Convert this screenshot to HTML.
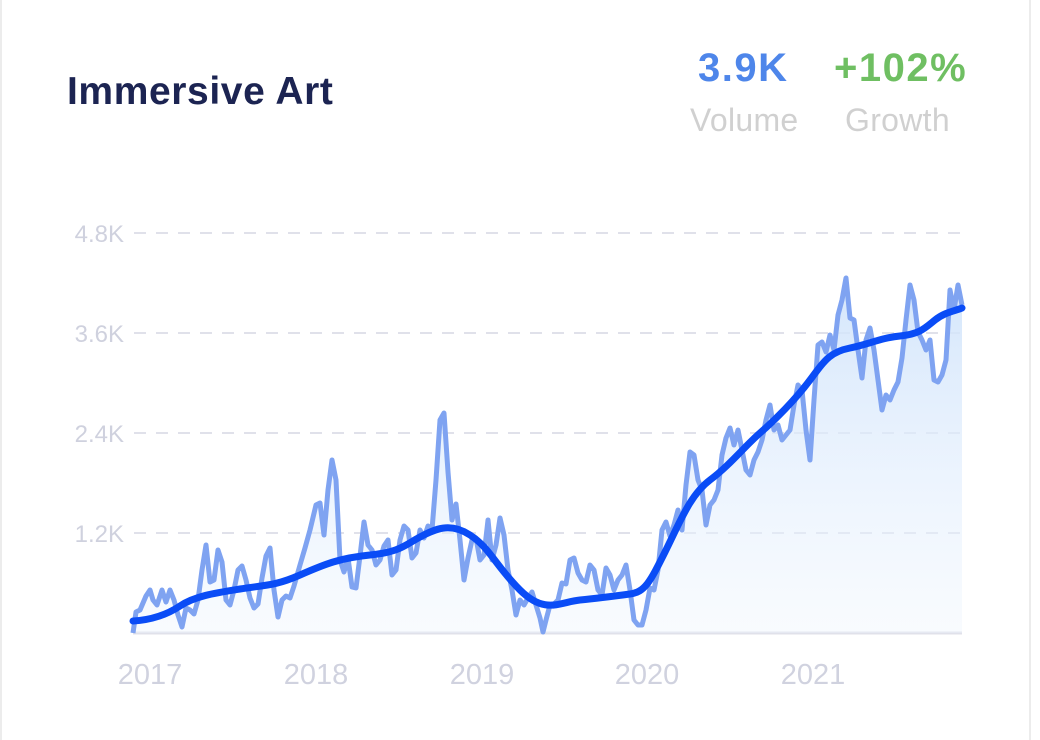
<!DOCTYPE html>
<html><head><style>
html,body{margin:0;padding:0;background:#fff;}
body{width:1040px;height:740px;position:relative;overflow:hidden;font-family:"Liberation Sans",sans-serif;}
.bl{position:absolute;left:0;top:0;width:2px;height:740px;background:#ececec;}
.br{position:absolute;left:1029px;top:0;width:2px;height:740px;background:#ececec;}
.t{position:absolute;left:67px;top:70px;font-size:39px;font-weight:bold;color:#1c2452;letter-spacing:0.6px;}
.v{position:absolute;top:46px;font-size:40px;font-weight:bold;letter-spacing:1.5px;}
.l{position:absolute;top:102px;font-size:32px;color:#d0d0d0;letter-spacing:0.3px;}
</style></head><body>
<div class="bl"></div><div class="br"></div>
<div class="t">Immersive Art</div>
<div class="v" style="left:698px;color:#4e86ea">3.9K</div>
<div class="v" style="left:834px;color:#6fbf62">+102%</div>
<div class="l" style="left:690px">Volume</div>
<div class="l" style="left:845px">Growth</div>
<svg width="1040" height="740" style="position:absolute;left:0;top:0">
<defs><linearGradient id="g" x1="0" y1="0" x2="0" y2="1"><stop offset="0" stop-color="#cfe3fb" stop-opacity="0.9"/><stop offset="1" stop-color="#eef5fe" stop-opacity="0.4"/></linearGradient></defs>
<g font-family="Liberation Sans" font-size="24" fill="#cfd1de" text-anchor="end">
<text x="124" y="242">4.8K</text><text x="124" y="342">3.6K</text><text x="124" y="442">2.4K</text><text x="124" y="542">1.2K</text>
</g>
<g stroke="#e0e1ea" stroke-width="2" stroke-dasharray="12,10">
<line x1="134" y1="233" x2="962" y2="233"/><line x1="134" y1="333" x2="962" y2="333"/><line x1="134" y1="433" x2="962" y2="433"/><line x1="134" y1="533" x2="962" y2="533"/>
</g>
<line x1="133" y1="633" x2="962" y2="633" stroke="#e0e1ea" stroke-width="3"/>
<g font-family="Liberation Sans" font-size="29" fill="#d0d2df" text-anchor="middle">
<text x="150" y="684">2017</text><text x="316" y="684">2018</text><text x="482" y="684">2019</text><text x="647" y="684">2020</text><text x="813" y="684">2021</text>
</g>
<polygon fill="url(#g)" points="133,633 136,612 140,610 146,596 150,590 153,600 157,605 162,590 166,602 170,590 174,600 178,615 182,627 186,608 190,610 194,614 198,600 202,570 206,545 210,582 214,580 218,550 222,562 226,600 230,605 234,590 238,570 242,566 246,580 250,598 254,608 258,604 262,578 266,556 270,548 274,590 278,617 282,600 286,596 290,598 294,586 300,565 305,548 310,530 316,505 320,503 324,535 328,490 332,460 336,480 340,560 344,572 348,558 352,587 356,588 360,556 364,522 368,545 372,550 376,565 380,560 384,546 388,540 392,575 396,570 400,540 404,526 408,530 412,558 416,553 420,530 424,538 428,526 432,530 436,480 440,420 444,413 448,472 452,520 456,504 460,540 464,580 468,558 472,540 476,538 480,560 484,555 488,520 492,560 496,545 500,518 504,535 508,570 512,590 516,615 520,600 524,605 528,598 532,592 536,605 540,618 543,632 546,620 550,605 554,604 558,600 562,583 566,584 570,560 574,558 578,573 582,580 586,582 590,565 594,570 598,590 602,595 606,568 610,575 614,590 618,580 622,575 626,565 630,590 634,620 638,625 642,625 646,610 650,588 654,590 658,570 662,530 666,522 670,536 674,525 678,510 682,530 686,485 690,452 694,455 698,480 702,490 706,525 710,505 714,500 718,490 722,455 726,438 730,428 734,445 738,430 742,450 746,470 750,475 754,460 758,452 762,440 766,420 770,405 774,430 778,425 782,440 786,435 790,430 794,405 798,385 802,390 806,430 810,460 814,400 818,345 822,342 826,352 830,335 834,350 838,315 842,300 846,278 850,318 854,320 858,350 862,378 866,340 870,328 874,350 878,380 882,410 886,395 890,400 894,390 898,382 902,358 906,320 910,285 914,300 918,332 922,340 926,350 930,340 934,380 938,382 942,375 946,360 950,290 954,310 958,285 962,305 962,633"/>
<polyline fill="none" stroke="#7fa3f1" stroke-width="5" stroke-linejoin="round" points="133,633 136,612 140,610 146,596 150,590 153,600 157,605 162,590 166,602 170,590 174,600 178,615 182,627 186,608 190,610 194,614 198,600 202,570 206,545 210,582 214,580 218,550 222,562 226,600 230,605 234,590 238,570 242,566 246,580 250,598 254,608 258,604 262,578 266,556 270,548 274,590 278,617 282,600 286,596 290,598 294,586 300,565 305,548 310,530 316,505 320,503 324,535 328,490 332,460 336,480 340,560 344,572 348,558 352,587 356,588 360,556 364,522 368,545 372,550 376,565 380,560 384,546 388,540 392,575 396,570 400,540 404,526 408,530 412,558 416,553 420,530 424,538 428,526 432,530 436,480 440,420 444,413 448,472 452,520 456,504 460,540 464,580 468,558 472,540 476,538 480,560 484,555 488,520 492,560 496,545 500,518 504,535 508,570 512,590 516,615 520,600 524,605 528,598 532,592 536,605 540,618 543,632 546,620 550,605 554,604 558,600 562,583 566,584 570,560 574,558 578,573 582,580 586,582 590,565 594,570 598,590 602,595 606,568 610,575 614,590 618,580 622,575 626,565 630,590 634,620 638,625 642,625 646,610 650,588 654,590 658,570 662,530 666,522 670,536 674,525 678,510 682,530 686,485 690,452 694,455 698,480 702,490 706,525 710,505 714,500 718,490 722,455 726,438 730,428 734,445 738,430 742,450 746,470 750,475 754,460 758,452 762,440 766,420 770,405 774,430 778,425 782,440 786,435 790,430 794,405 798,385 802,390 806,430 810,460 814,400 818,345 822,342 826,352 830,335 834,350 838,315 842,300 846,278 850,318 854,320 858,350 862,378 866,340 870,328 874,350 878,380 882,410 886,395 890,400 894,390 898,382 902,358 906,320 910,285 914,300 918,332 922,340 926,350 930,340 934,380 938,382 942,375 946,360 950,290 954,310 958,285 962,305"/>
<path fill="none" stroke="#0a4cf6" stroke-width="7" stroke-linecap="round" stroke-linejoin="round" d="M133,621 C150,620 165,616 180,606 S215,593 240,589 S275,586 300,575 S340,558 370,555 S405,545 420,537 S450,522 470,535 S495,565 520,590 S560,602 580,600 S615,596 630,594 S650,582 665,552 S690,495 710,480 S745,446 760,433 S795,400 810,380 S830,352 850,348 S880,338 900,336 S925,328 935,320 S955,311 962,308"/>
</svg>
</body></html>
